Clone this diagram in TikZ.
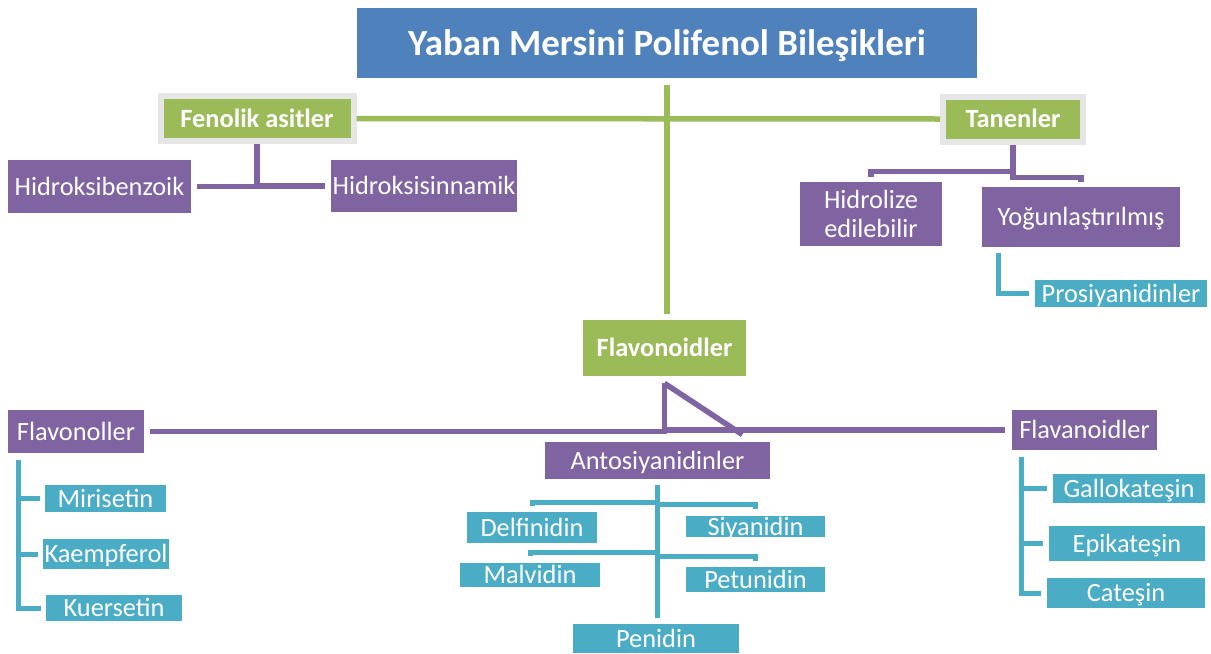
\documentclass[tikz,border=0pt]{standalone}
\usepackage{fontspec}
\setmainfont{Carlito}
\usepackage{tikz}
\usetikzlibrary{calc}

\definecolor{titleblue}{HTML}{4F81BD}
\definecolor{leafgreen}{HTML}{9BBB59}
\definecolor{plum}{HTML}{8064A2}
\definecolor{aqua}{HTML}{4BACC6}
\definecolor{framegray}{HTML}{E6E6E6}

\begin{document}
\begin{tikzpicture}[x=0.02cm, y=-0.02cm,
            box/.style={inner sep=0pt, text=white, align=center,
                    font=\fontsize{15}{17}\selectfont,
                    text height=9.7pt, text depth=0pt},
            sz/.style 2 args={minimum width=#1*0.02cm, minimum height=#2*0.02cm},
            purplebox/.style={box, fill=plum},
            cyanbox/.style={box, fill=aqua},
            greenbox/.style={box, fill=leafgreen, font=\fontsize{15}{17}\selectfont\bfseries},
            framedbox/.style={greenbox, draw=framegray, line width=0.12cm},
            gline/.style={draw=leafgreen, line width=0.11cm},
            pline/.style={draw=plum, line width=0.11cm},
            cline/.style={draw=aqua, line width=0.1cm}]

        \useasboundingbox (0,0) rectangle (1211,653);

        \node[box, fill=titleblue, sz={620}{70}, text height=13.8pt,
              font=\fontsize{21}{25}\selectfont\bfseries]
            (title) at (667,43) {Yaban Mersini Polifenol Bileşikleri};

        \node[framedbox, sz={193}{45}] (fen) at (257,118.5) {Fenolik asitler};
        \node[framedbox, sz={140}{45}] (tan) at (1013,119) {Tanenler};
        \node[greenbox, sz={163}{56}] (flav) at (664.5,348) {Flavonoidler};

        \node[purplebox, sz={183}{53}] (hbz) at (99.5,186.5) {Hidroksibenzoik};
        \node[purplebox, sz={186}{52}] (hsn) at (424,186) {Hidroksisinnamik};
        \node[purplebox, sz={142}{64}, text height=, text depth=, font=\fontsize{15}{16.5}\selectfont]
            (hid) at (871,214) {Hidrolize\\edilebilir};
        \node[purplebox, sz={198}{60}] (yog) at (1081,217) {Yoğunlaştırılmış};
        \node[cyanbox, sz={172}{27}] (pro) at (1121,293.5) {Prosiyanidinler};

        \node[purplebox, sz={136}{43}] (flavonol) at (76,431.5) {Flavonoller};
        \node[purplebox, sz={145}{40}] (flavanoid) at (1084.5,430) {Flavanoidler};
        \node[purplebox, sz={225}{37}] (ant) at (657.5,460.5) {Antosiyanidinler};

        \node[cyanbox, sz={121}{27}] (mir) at (105.5,498.5) {Mirisetin};
        \node[cyanbox, sz={126}{30}] (kae) at (106,554) {Kaempferol};
        \node[cyanbox, sz={136}{26}] (kue) at (114,608) {Kuersetin};

        \node[cyanbox, sz={152}{29}] (gal) at (1129,488.5) {Gallokateşin};
        \node[cyanbox, sz={156}{35}] (epi) at (1127,543.5) {Epikateşin};
        \node[cyanbox, sz={158}{30}] (cat) at (1126,593) {Cateşin};

        \node[cyanbox, sz={130}{31}] (del) at (532,527.5) {Delfinidin};
        \node[cyanbox, sz={139}{21}] (siy) at (755.5,526.5) {Siyanidin};
        \node[cyanbox, sz={140}{24}] (mal) at (530,575) {Malvidin};
        \node[cyanbox, sz={139}{25}] (pet) at (755.5,579.5) {Petunidin};
        \node[cyanbox, sz={166}{29}] (pen) at (656,638.5) {Penidin};

        % main branches
        \draw[gline, shorten <=0.14cm, shorten >=0.12cm] (title.south) -- (title.south |- flav.north);
        \draw[gline] (fen.east) -- (tan.west);

        \draw[pline, shorten >=0.12cm] (fen.south) |- (hbz.east);
        \draw[pline, shorten >=0.12cm] (fen.south) |- (hsn.west);

        \draw[pline, shorten >=0.1cm] (tan.south) -- ++(0,27) -| (hid.north);
        \draw[pline, shorten >=0.1cm] (tan.south) -- ++(0,33) -| (yog.north);
        \draw[cline, shorten <=0.12cm, shorten >=0.12cm] ($(yog.south west)+(17,0)$) |- (pro.west);

        \draw[pline, shorten <=0.14cm, shorten >=0.12cm] (flav.south) |- (flavonol.east);
        \draw[pline, shorten <=0.14cm, shorten >=0.14cm] (flav.south) |- (flavanoid.west);
        \draw[pline] ($(flav.south)+(0,7)$) -- ($(ant.north east)+(-28,-7)$);

        % leaves
        \foreach \n in {mir,kae,kue}
            \draw[cline, shorten <=0.14cm, shorten >=0.1cm] ($(flavonol.south west)+(11,0)$) |- (\n.west);
        \foreach \n in {gal,epi,cat}
            \draw[cline, shorten <=0.14cm, shorten >=0.12cm] ($(flavanoid.south west)+(10,0)$) |- (\n.west);

        \draw[cline, shorten <=0.12cm, shorten >=0.12cm] (ant.south) -- (ant.south |- pen.north);
        \draw[cline, shorten >=0.12cm] ($(ant.south)+(0,23)$) -| (del.north);
        \draw[cline, shorten >=0.14cm] ($(ant.south)+(0,25)$) -| (siy.north);
        \draw[cline, shorten >=0.14cm] ($(ant.south)+(0,73)$) -| (mal.north);
        \draw[cline, shorten >=0.12cm] ($(ant.south)+(0,77)$) -| (pet.north);
    \end{tikzpicture}
\end{document}
